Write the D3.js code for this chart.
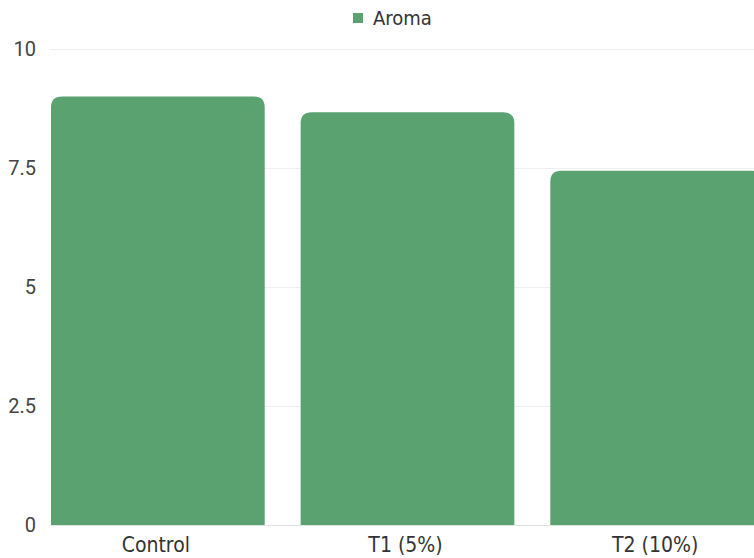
<!DOCTYPE html>
<html>
<head>
<meta charset="utf-8">
<script src="https://cdn.jsdelivr.net/npm/d3@7"></script>
<style>
  html, body { margin: 0; padding: 0; background: #fff; }
  svg { display: block; }
</style>
</head>
<body>
<svg id="chart" width="754" height="558"></svg>
<script>
// Aroma scores per treatment
const categories = ["Control", "T1 (5%)", "T2 (10%)"];
const aromaValues = [9.0, 8.67, 7.44];
const yTicks = [0, 2.5, 5, 7.5, 10];
const seriesName = "Aroma";

const width = 754, height = 558;
const barColor = "#5aa270";
const condensed = "'Liberation Sans Narrow', 'DejaVu Sans Condensed', 'Roboto Condensed', sans-serif";

const svg = d3.select("#chart");

const x = d3.scaleBand()
  .domain(categories)
  .range([51, 764])
  .paddingInner(0.144)
  .paddingOuter(0);

const y = d3.scaleLinear().domain([0, 10]).range([525, 49]);

// horizontal gridlines
svg.append("g")
  .selectAll("line")
  .data(yTicks)
  .join("line")
  .attr("x1", 50)
  .attr("x2", 764)
  .attr("y1", d => y(d) + 0.5)
  .attr("y2", d => y(d) + 0.5)
  .attr("stroke", d => d === 0 ? "#e2e2e2" : "#efefef")
  .attr("stroke-width", 1);

// y tick labels
svg.append("g")
  .selectAll("text")
  .data(yTicks)
  .join("text")
  .attr("x", 36)
  .attr("y", d => y(d))
  .attr("dy", "0.35em")
  .attr("text-anchor", "end")
  .attr("font-family", "Roboto, 'Liberation Sans', sans-serif")
  .attr("font-size", 20)
  .attr("fill", "#444")
  .text(d => d);

// bars with rounded top corners
const r = 11;
function topRoundedBar(x0, y0, w, h) {
  const rr = Math.min(r, w / 2, h);
  return `M${x0},${y0 + h}` +
    `V${y0 + rr}` +
    `Q${x0},${y0} ${x0 + rr},${y0}` +
    `H${x0 + w - rr}` +
    `Q${x0 + w},${y0} ${x0 + w},${y0 + rr}` +
    `V${y0 + h}Z`;
}

svg.append("g")
  .selectAll("path")
  .data(categories.map((c, i) => ({ c, v: aromaValues[i] })))
  .join("path")
  .attr("d", d => topRoundedBar(x(d.c), y(d.v), x.bandwidth(), y(0) - y(d.v)))
  .attr("fill", barColor);

// x axis labels
svg.append("g")
  .selectAll("text")
  .data(categories)
  .join("text")
  .attr("x", d => x(d) + x.bandwidth() / 2 - 2)
  .attr("y", 545)
  .attr("dy", "0.35em")
  .attr("text-anchor", "middle")
  .attr("font-family", condensed)
  .attr("font-size", 21)
  .attr("fill", "#333")
  .text(d => d);

// legend
const legend = svg.append("g");
legend.append("rect")
  .attr("x", 353)
  .attr("y", 13)
  .attr("width", 10)
  .attr("height", 10)
  .attr("fill", barColor);
legend.append("text")
  .attr("x", 373)
  .attr("y", 18)
  .attr("dy", "0.35em")
  .attr("font-family", condensed)
  .attr("font-size", 20)
  .attr("fill", "#333")
  .text(seriesName);
</script>
</body>
</html>
